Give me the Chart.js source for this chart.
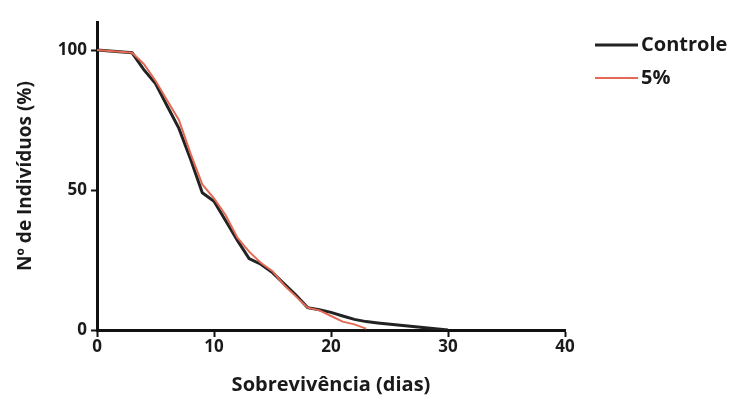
<!DOCTYPE html>
<html>
<head>
<meta charset="utf-8">
<script src="https://cdn.jsdelivr.net/npm/chart.js@4/dist/chart.umd.min.js"></script>
<style>
html,body{margin:0;padding:0;background:#fff;}
#wrap{width:742px;height:405px;position:relative;}
</style>
</head>
<body>
<div id="wrap"><canvas id="c" width="742" height="405"></canvas></div>
<script>
const controleDays = [0,3,4,5,6,7,8,9,10,11,12,13,14,15,16,17,18,19,20,21,22,23,24,30];
const controleVals = [100,99,93,88,80,72,61,49,46,39,32,25.5,23.5,20.5,16.5,12.5,8,7.2,6.3,5,3.8,3,2.5,0];
const cincoDays = [0,3,4,5,6,7,8,9,10,11,12,13,14,15,16,17,18,19,20,21,22,23];
const cincoVals = [100,99,95,89,82,75,63,52,47,41,33,28,24,21,16,12,8,7,5,3,2,0.5];
const seriesLabels = ['Controle','5%'];
const xTicks = [0,10,20,30,40];
const yTicks = [0,50,100];
const xTitle = 'Sobrevivência (dias)';
const yTitle = 'Nº de Indivíduos (%)';

const FONT = "'Open Sans', 'DejaVu Sans', sans-serif";
const toPts = (d,v) => d.map((x,i)=>({x:x,y:v[i]}));

const legendPlugin = {
  id:'customLegend',
  afterDraw(chart){
    const ctx = chart.ctx;
    ctx.save();
    const items = chart.data.datasets;
    const ys = [45, 78];
    items.forEach((ds,i)=>{
      ctx.strokeStyle = ds.borderColor;
      ctx.lineWidth = ds.borderWidth;
      ctx.beginPath(); ctx.moveTo(595, ys[i]); ctx.lineTo(638, ys[i]); ctx.stroke();
      ctx.fillStyle = '#1a1a1a';
      ctx.font = "700 20px " + FONT;
      ctx.textBaseline = 'middle';
      ctx.fillText(ds.label, 641, ys[i]);
    });
    ctx.restore();
  }
};

new Chart(document.getElementById('c'), {
  type:'line',
  data:{
    datasets:[
      {label:seriesLabels[0], data:toPts(controleDays,controleVals), borderColor:'#222222', borderWidth:3, pointRadius:0, tension:0, order:2},
      {label:seriesLabels[1], data:toPts(cincoDays,cincoVals), borderColor:'#e46a55', borderWidth:2, pointRadius:0, tension:0, order:1}
    ]
  },
  plugins:[legendPlugin],
  options:{
    responsive:false,
    animation:false,
    layout:{padding:{left:14,right:177,top:22,bottom:8}},
    plugins:{legend:{display:false}, tooltip:{enabled:false}},
    scales:{
      x:{
        type:'linear', min:0, max:40,
        afterBuildTicks(s){ s.ticks = xTicks.map(v=>({value:v})); },
        afterFit(s){ s.height = 405-330-8; },
        border:{display:true, color:'#111', width:3},
        grid:{display:true, drawOnChartArea:false, drawTicks:true, tickLength:7, tickColor:'#111', tickWidth:2},
        ticks:{color:'#1a1a1a', font:{family:FONT, size:17, weight:'700'}, padding:0, maxRotation:0},
        title:{display:true, text:xTitle, color:'#1a1a1a', font:{family:FONT, size:20, weight:'700'}, padding:{top:4,bottom:0}}
      },
      y:{
        type:'linear', min:0, max:110,
        afterBuildTicks(s){ s.ticks = yTicks.map(v=>({value:v})); },
        afterFit(s){ s.width = 97-14; },
        border:{display:true, color:'#111', width:3},
        grid:{display:true, drawOnChartArea:false, drawTicks:true, tickLength:6, tickColor:'#111', tickWidth:2},
        ticks:{color:'#1a1a1a', font:{family:FONT, size:17, weight:'700'}, padding:4},
        title:{display:true, text:yTitle, color:'#1a1a1a', font:{family:FONT, size:19, weight:'700'}, padding:{top:0,bottom:2}}
      }
    }
  }
});
</script>
</body>
</html>
